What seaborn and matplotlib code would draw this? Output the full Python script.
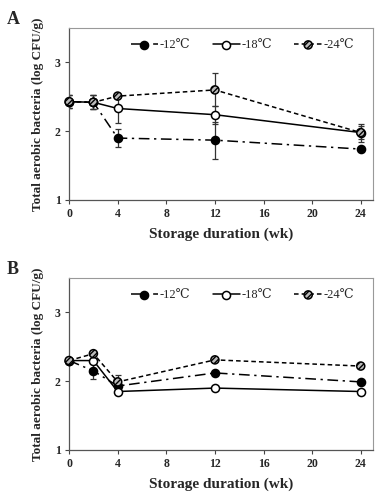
import numpy as np
import pandas as pd
import seaborn as sns
import matplotlib.pyplot as plt
from matplotlib.lines import Line2D
from matplotlib.legend_handler import HandlerTuple

# storage weeks
weeks = [0, 2, 4, 12, 24]
temps = ['-12℃', '-18℃', '-24℃']

# panel A values (log CFU/g) and SD
a_m12 = [2.43, 2.42, 1.90, 1.87, 1.74]
a_m18 = [2.43, 2.42, 2.33, 2.24, 1.98]
a_m24 = [2.43, 2.42, 2.51, 2.60, 1.98]
a_m12_sd = [0.10, 0.10, 0.13, 0.27, 0.0]
a_m18_sd = [0.10, 0.10, 0.21, 0.13, 0.10]
a_m24_sd = [0.10, 0.10, 0.0, 0.24, 0.13]

# panel B values
b_m12 = [2.30, 2.15, 1.93, 2.12, 1.99]
b_m18 = [2.30, 2.30, 1.85, 1.90, 1.85]
b_m24 = [2.30, 2.40, 1.99, 2.31, 2.22]
b_m12_sd = [0.0, 0.12, 0.0, 0.0, 0.0]
b_m18_sd = [0.0, 0.0, 0.0, 0.0, 0.0]
b_m24_sd = [0.0, 0.0, 0.10, 0.0, 0.0]

sns.set_style('white')
plt.rcParams['font.family'] = ['Liberation Serif', 'DejaVu Serif']
plt.rcParams['hatch.linewidth'] = 1.0

styles = {
    '-12℃': dict(ls=(0, (7, 3, 1.5, 3)), fc='black'),
    '-18℃': dict(ls='-', fc='white'),
    '-24℃': dict(ls=(0, (3, 2)), fc='#bbbbbb'),
}


def draw_panel(ax, series, sds, letter):
    df = pd.DataFrame({'week': weeks * 3,
                       'temp': np.repeat(temps, len(weeks)),
                       'value': sum(series, []),
                       'sd': sum(sds, [])})
    handles = []
    for t in temps:
        sub = df[df.temp == t]
        st = styles[t]
        ax.errorbar(sub.week, sub.value, yerr=sub.sd, fmt='none', ecolor='#333333',
                    elinewidth=0.9, capsize=2.5, capthick=0.9, zorder=2)
        sns.lineplot(x='week', y='value', data=sub, ax=ax, color='black',
                     linewidth=1.1, linestyle=st['ls'], zorder=3, legend=False)
        sc = ax.scatter(sub.week, sub.value, s=34, facecolor=st['fc'], edgecolor='black',
                        linewidth=1.1, zorder=4, clip_on=False,
                        hatch='//////' if t == '-24℃' else None)
        ln = Line2D([], [], color='black', linewidth=1.1, linestyle=st['ls'])
        handles.append((ln, sc))
    ax.set_xlim(0, 25)
    ax.set_ylim(1, 3.5)
    ax.set_xticks([0, 4, 8, 12, 16, 20, 24])
    ax.set_yticks([1, 2, 3])
    ax.tick_params(axis='both', direction='out', length=3, width=0.8, labelsize=8.5,
                   color='#444444', pad=3, bottom=True, left=True)
    for lab in ax.get_xticklabels() + ax.get_yticklabels():
        lab.set_fontweight('bold')
    for side in ['top', 'right']:
        ax.spines[side].set_color('#999999')
        ax.spines[side].set_linewidth(0.8)
    for side in ['left', 'bottom']:
        ax.spines[side].set_color('#555555')
        ax.spines[side].set_linewidth(0.9)
    ax.set_xlabel('Storage duration (wk)', fontsize=11, fontweight='bold', labelpad=5)
    ax.set_ylabel('Total aerobic bacteria (log CFU/g)', fontsize=9.5, fontweight='bold',
                  labelpad=8)
    ax.legend(handles, temps, handler_map={tuple: HandlerTuple(ndivide=1)},
              loc='center', bbox_to_anchor=(0.57, 0.9), ncol=3, frameon=False,
              handlelength=2.2, handletextpad=0.1, columnspacing=1.8,
              prop={'size': 9})
    ax.text(-0.205, 1.05, letter, transform=ax.transAxes, fontsize=13,
            fontweight='bold', va='center', ha='left')


fig = plt.figure(figsize=(3.86, 5.0), dpi=100)
ax_a = fig.add_axes([0.179, 0.6, 0.787, 0.344])
ax_b = fig.add_axes([0.179, 0.1, 0.787, 0.344])
draw_panel(ax_a, [a_m12, a_m18, a_m24], [a_m12_sd, a_m18_sd, a_m24_sd], 'A')
draw_panel(ax_b, [b_m12, b_m18, b_m24], [b_m12_sd, b_m18_sd, b_m24_sd], 'B')
fig.savefig('out.png', dpi=100)
